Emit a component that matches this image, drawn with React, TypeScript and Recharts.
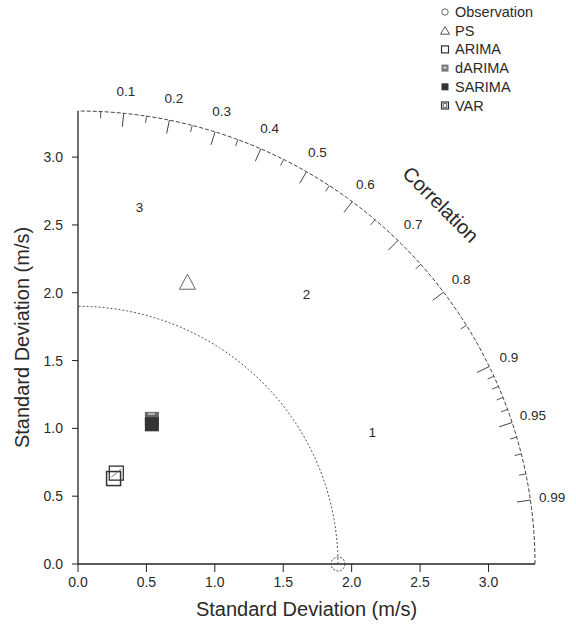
import React from "react";
import {
  ScatterChart,
  Scatter,
  XAxis,
  YAxis,
  ReferenceLine,
  ReferenceDot,
  Legend,
} from "recharts";

// standard deviation axis (m/s)
const sdTicks = [0, 0.5, 1.0, 1.5, 2.0, 2.5, 3.0];
const sdMax = 3.34;
const obsSd = 1.9;

// model points: x = sd * corr, y = sd * sin(acos(corr))
const observation = [{ x: 1.9, y: 0 }];
const ps = [{ x: 0.8, y: 2.07 }];
const arima = [{ x: 0.26, y: 0.63 }];
const darima = [{ x: 0.54, y: 1.07 }];
const sarima = [{ x: 0.54, y: 1.03 }];
const varModel = [{ x: 0.28, y: 0.67 }];

// correlation ticks on the outer arc
const corrMajor = [0.1, 0.2, 0.3, 0.4, 0.5, 0.6, 0.7, 0.8, 0.9, 0.95, 0.99];
const corrLabels = ["0.1", "0.2", "0.3", "0.4", "0.5", "0.6", "0.7", "0.8", "0.9", "0.95", "0.99"];
const corrMinor = [0.05, 0.15, 0.25, 0.35, 0.45, 0.55, 0.65, 0.75, 0.85, 0.91, 0.92, 0.93, 0.94, 0.96, 0.97, 0.98];

// region numbers inside the diagram
const regionText = ["3", "2", "1"];
const regionX = [0.45, 1.67, 2.15];
const regionY = [2.63, 1.99, 0.97];

const legendNames = ["Observation", "PS", "ARIMA", "dARIMA", "SARIMA", "VAR"];

const font = "'Liberation Sans', Arial, sans-serif";
const ink = "#2a2a2a";

const arcPoints = (r: number) => {
  const pts = [];
  for (let d = 0; d <= 90; d += 1) {
    const a = (d * Math.PI) / 180;
    pts.push({ x: r * Math.cos(a), y: r * Math.sin(a) });
  }
  return pts;
};
const outerArc = arcPoints(sdMax);
const innerArc = arcPoints(obsSd);

const polar = (r: number, c: number) => ({ x: r * c, y: r * Math.sqrt(1 - c * c) });

const blank = () => <g />;

function LegendSymbol({ name, x, y }: { name: string; x: number; y: number }) {
  const s = 7;
  if (name === "Observation")
    return <circle cx={x} cy={y} r={3.2} fill="none" stroke="#666" strokeWidth={1} />;
  if (name === "PS")
    return (
      <polygon
        points={`${x},${y - 4} ${x - 4.5},${y + 3.5} ${x + 4.5},${y + 3.5}`}
        fill="none"
        stroke="#555"
        strokeWidth={1}
      />
    );
  if (name === "ARIMA")
    return <rect x={x - s / 2} y={y - s / 2} width={s} height={s} fill="none" stroke="#333" strokeWidth={1.2} />;
  if (name === "dARIMA")
    return (
      <g>
        <rect x={x - s / 2} y={y - s / 2} width={s} height={s} fill="#777" />
        <rect x={x - 1.5} y={y - 1.5} width={3} height={2} fill="#ddd" />
      </g>
    );
  if (name === "SARIMA")
    return <rect x={x - s / 2} y={y - s / 2} width={s} height={s} fill="#333" />;
  return (
    <g>
      <rect x={x - s / 2} y={y - s / 2} width={s} height={s} fill="none" stroke="#333" strokeWidth={1.2} />
      <rect x={x - 1.8} y={y - 1.8} width={3.6} height={3.6} fill="none" stroke="#333" strokeWidth={0.8} />
    </g>
  );
}

function LegendBox() {
  return (
    <svg width={140} height={112}>
      {legendNames.map((n, i) => (
        <g key={n}>
          <LegendSymbol name={n} x={5} y={11 + i * 18.7} />
          <text x={15} y={11 + i * 18.7} dy="0.35em" fontSize={14.5} fontFamily={font} fill={ink}>
            {n}
          </text>
        </g>
      ))}
    </svg>
  );
}

const textShape = (t: string, size: number, rotate = 0) => (p: any) => (
  <text
    x={p.cx}
    y={p.cy}
    textAnchor="middle"
    dominantBaseline="central"
    fontSize={size}
    fontFamily={font}
    fill={ink}
    transform={rotate ? `rotate(${rotate} ${p.cx} ${p.cy})` : undefined}
  >
    {t}
  </text>
);

export default function App() {
  const corrLabelPos = corrMajor.map((c) => polar(3.5, c));
  const corrTitle = polar(3.75, Math.SQRT1_2);
  return (
    <div style={{ position: "absolute", left: 0, top: 0, background: "#fff" }}>
      <ScatterChart width={576} height={641} margin={{ top: 111, right: 41, left: 18, bottom: 47 }}>
        <XAxis
          type="number"
          dataKey="x"
          domain={[0, sdMax]}
          ticks={sdTicks}
          tickFormatter={(v: number) => v.toFixed(1)}
          height={30}
          tickSize={8}
          tickMargin={5}
          tick={{ fontSize: 14, fill: ink, fontFamily: font }}
          axisLine={{ stroke: "#222", strokeWidth: 1.3 }}
          tickLine={{ stroke: "#222" }}
          label={{
            value: "Standard Deviation (m/s)",
            position: "bottom",
            offset: 8,
            style: { fontSize: 20, fill: ink, fontFamily: font },
          }}
        />
        <YAxis
          type="number"
          dataKey="y"
          domain={[0, sdMax]}
          ticks={sdTicks}
          tickFormatter={(v: number) => v.toFixed(1)}
          width={60}
          tickSize={6}
          tickMargin={9}
          tick={{ fontSize: 14, fill: ink, fontFamily: font }}
          axisLine={{ stroke: "#222", strokeWidth: 1.3 }}
          tickLine={{ stroke: "#222" }}
          label={{
            value: "Standard Deviation (m/s)",
            angle: -90,
            position: "insideLeft",
            offset: 4,
            style: { fontSize: 20, fill: ink, fontFamily: font, textAnchor: "middle" },
          }}
        />
        <Legend
          layout="vertical"
          align="center"
          verticalAlign="middle"
          wrapperStyle={{ top: 1, left: 440, width: 140 }}
          content={() => <LegendBox />}
        />

        <Scatter
          data={outerArc}
          line={{ stroke: "#444", strokeWidth: 1, strokeDasharray: "4 2" }}
          shape={blank}
          legendType="none"
          isAnimationActive={false}
        />
        <Scatter
          data={innerArc}
          line={{ stroke: "#555", strokeWidth: 1, strokeDasharray: "2 2" }}
          shape={blank}
          legendType="none"
          isAnimationActive={false}
        />

        {corrMajor.map((c) => (
          <ReferenceLine
            key={"M" + c}
            segment={[polar(sdMax, c), polar(sdMax - 0.1, c)]}
            stroke="#444"
            strokeWidth={1}
            ifOverflow="visible"
          />
        ))}
        {corrMinor.map((c) => (
          <ReferenceLine
            key={"m" + c}
            segment={[polar(sdMax, c), polar(sdMax - 0.05, c)]}
            stroke="#555"
            strokeWidth={1}
            ifOverflow="visible"
          />
        ))}
        {corrLabels.map((t, i) => (
          <ReferenceDot
            key={"l" + t}
            x={corrLabelPos[i].x}
            y={corrLabelPos[i].y}
            r={0}
            ifOverflow="visible"
            shape={textShape(t, 13.5)}
          />
        ))}
        <ReferenceDot
          x={corrTitle.x}
          y={corrTitle.y}
          r={0}
          ifOverflow="visible"
          shape={textShape("Correlation", 20, 45)}
        />
        {regionText.map((t, i) => (
          <ReferenceDot
            key={"r" + t}
            x={regionX[i]}
            y={regionY[i]}
            r={0}
            ifOverflow="visible"
            shape={textShape(t, 13.5)}
          />
        ))}

        <Scatter
          name="Observation"
          data={observation}
          isAnimationActive={false}
          shape={(p: any) => (
            <circle cx={p.cx} cy={p.cy} r={7} fill="none" stroke="#444" strokeWidth={1} strokeDasharray="2 1.5" />
          )}
        />
        <Scatter
          name="PS"
          data={ps}
          isAnimationActive={false}
          shape={(p: any) => (
            <polygon
              points={`${p.cx},${p.cy - 9} ${p.cx - 8},${p.cy + 6} ${p.cx + 8},${p.cy + 6}`}
              fill="none"
              stroke="#666"
              strokeWidth={1}
            />
          )}
        />
        <Scatter
          name="ARIMA"
          data={arima}
          isAnimationActive={false}
          shape={(p: any) => (
            <rect x={p.cx - 7} y={p.cy - 7} width={14} height={14} fill="none" stroke="#333" strokeWidth={1.5} />
          )}
        />
        <Scatter
          name="dARIMA"
          data={darima}
          isAnimationActive={false}
          shape={(p: any) => (
            <g>
              <rect x={p.cx - 7} y={p.cy - 7} width={14} height={14} fill="#666" />
              <rect x={p.cx - 4} y={p.cy - 6} width={7} height={2} fill="#bbb" />
            </g>
          )}
        />
        <Scatter
          name="SARIMA"
          data={sarima}
          isAnimationActive={false}
          shape={(p: any) => <rect x={p.cx - 7} y={p.cy - 7} width={14} height={14} fill="#333" />}
        />
        <Scatter
          name="VAR"
          data={varModel}
          isAnimationActive={false}
          shape={(p: any) => (
            <g>
              <rect x={p.cx - 7} y={p.cy - 7} width={14} height={14} fill="none" stroke="#333" strokeWidth={1.3} />
              <line x1={p.cx - 5} y1={p.cy + 4} x2={p.cx + 5} y2={p.cy - 4} stroke="#555" strokeWidth={0.8} />
            </g>
          )}
        />
      </ScatterChart>
    </div>
  );
}
